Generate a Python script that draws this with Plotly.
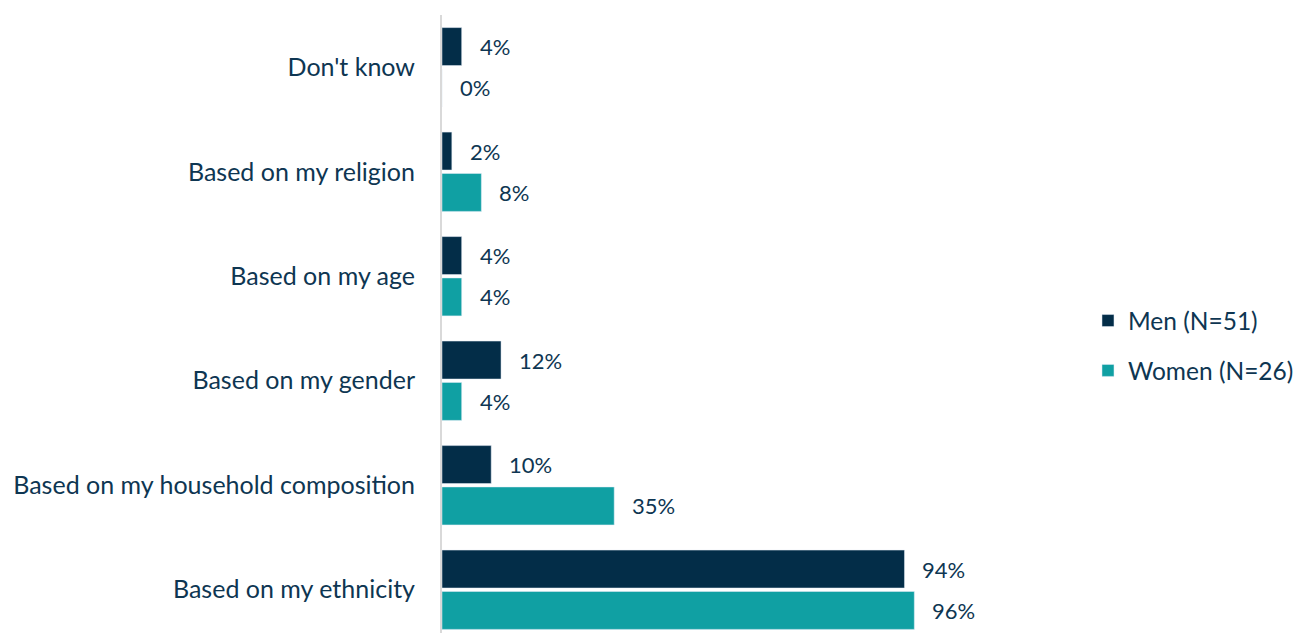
import plotly.graph_objects as go

categories = ["Based on my ethnicity", "Based on my household composition", "Based on my gender",
              "Based on my age", "Based on my religion", "Don't know"]
men = [94, 10, 12, 4, 2, 4]
women = [96, 35, 4, 4, 8, 0]
series_names = ["Men (N=51)", "Women (N=26)"]

MEN_C = "#032D48"
WOMEN_C = "#10A0A3"
TEXT_C = "#0E3652"
FONT = "Lato"

pos = list(range(len(categories)))
off = 0.198
men_y = [p + off for p in pos]
women_y = [p - off for p in pos]

fig = go.Figure()
fig.add_trace(go.Bar(x=men, y=men_y, orientation="h", width=0.363, marker_color=MEN_C,
                     name=series_names[0], legendgroup="m"))
fig.add_trace(go.Bar(x=women, y=women_y, orientation="h", width=0.363, marker_color=WOMEN_C,
                     name=series_names[1], legendgroup="w"))

for vals, ys in ((men, men_y), (women, women_y)):
    for v, y in zip(vals, ys):
        fig.add_annotation(x=v, y=y, text=f"{v}%", showarrow=False, xanchor="left",
                           xshift=16, font=dict(family=FONT, size=22, color=TEXT_C))

fig.update_layout(
    width=1296, height=633,
    margin=dict(l=442, r=362, t=15, b=0, autoexpand=False),
    paper_bgcolor="white", plot_bgcolor="white",
    barmode="overlay",
    font=dict(family=FONT, color=TEXT_C),
    showlegend=True,
    legend=dict(xref="container", x=0.8395, y=0.465, xanchor="left", yanchor="middle",
                font=dict(family=FONT, size=24.5, color=TEXT_C),
                traceorder="grouped", tracegroupgap=15, bgcolor="rgba(0,0,0,0)"),
    xaxis=dict(range=[0, 100], showgrid=False, zeroline=False, showticklabels=False,
               showline=False, fixedrange=True),
    yaxis=dict(range=[-0.414, 5.5], tickvals=pos, ticktext=categories, showgrid=False,
               zeroline=False, showline=True, linecolor="#D9D9D9", linewidth=2,
               ticks="", ticklabelstandoff=20,
               tickfont=dict(family=FONT, size=25, color=TEXT_C)),
)

fig.write_html("out.html")
